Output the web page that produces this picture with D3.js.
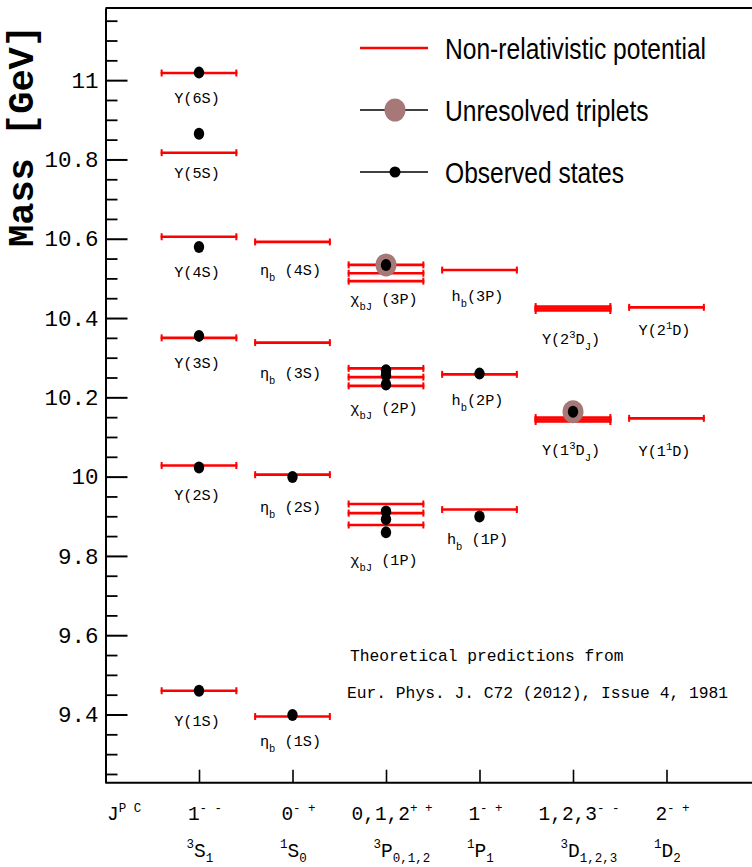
<!DOCTYPE html>
<html><head><meta charset="utf-8">
<script src="https://cdn.jsdelivr.net/npm/d3@7"></script>
<style>body{margin:0;background:#fff}svg{display:block}</style>
</head><body>
<svg id="c" width="752" height="867"></svg>
<script>
// ---------- data ----------
const columnIds = [1, 2, 3, 4, 5, 6];
const jpcMain = ["1", "0", "0,1,2", "1", "1,2,3", "2"];
const jpcSup  = ["- -", "- +", "+ +", "- +", "- -", "- +"];
const specSup = ["3", "1", "3", "1", "3", "1"];
const specLetter = ["S", "S", "P", "P", "D", "D"];
const specSub = ["1", "0", "0,1,2", "1", "1,2,3", "2"];

const yMajorTicks = [9.4, 9.6, 9.8, 10, 10.2, 10.4, 10.6, 10.8, 11];
const yTickLabels = ["9.4", "9.6", "9.8", "10", "10.2", "10.4", "10.6", "10.8", "11"];

// predicted levels (non-relativistic potential): [column, mass GeV]
const predicted = [
  [1, 11.018], [1, 10.817], [1, 10.605], [1, 10.350], [1, 10.028], [1, 9.460],
  [2, 10.592], [2, 10.338], [2, 10.005], [2, 9.395],
  [3, 10.534], [3, 10.513], [3, 10.493],
  [3, 10.273], [3, 10.251], [3, 10.229],
  [3, 9.931], [3, 9.908], [3, 9.878],
  [4, 10.521], [4, 10.258], [4, 9.917],
  [5, 10.429], [5, 10.424], [5, 10.419],
  [5, 10.149], [5, 10.144], [5, 10.139],
  [6, 10.427], [6, 10.147]
];
// observed states: [column, mass GeV]
const observed = [
  [1, 11.019], [1, 10.865], [1, 10.579], [1, 10.355], [1, 10.023], [1, 9.460],
  [2, 9.999], [2, 9.399],
  [3, 10.534], [3, 10.2686], [3, 10.2555], [3, 10.2325], [3, 9.9122], [3, 9.8928], [3, 9.8594],
  [4, 10.2598], [4, 9.8993],
  [5, 10.1637]
];
// unresolved triplets: [column, mass GeV]
const unresolved = [[3, 10.534], [5, 10.1637]];

// state labels: [column, label-centre mass, text]
const stateLabels = [
  [1, 10.955, "Υ(6S)"], [1, 10.766, "Υ(5S)"], [1, 10.517, "Υ(4S)"],
  [1, 10.287, "Υ(3S)"], [1, 9.954, "Υ(2S)"], [1, 9.384, "Υ(1S)"],
  [2, 10.521, "η_{b} (4S)"], [2, 10.262, "η_{b} (3S)"], [2, 9.924, "η_{b} (2S)"], [2, 9.334, "η_{b} (1S)"],
  [3, 10.447, "χ_{bJ} (3P)"], [3, 10.172, "χ_{bJ} (2P)"], [3, 9.790, "χ_{bJ} (1P)"],
  [4, 10.456, "h_{b}(3P)"], [4, 10.194, "h_{b}(2P)"], [4, 9.842, "h_{b} (1P)"],
  [5, 10.346, "Υ(2^{3}D_{J})"], [5, 10.066, "Υ(1^{3}D_{J})"],
  [6, 10.371, "Υ(2^{1}D)"], [6, 10.064, "Υ(1^{1}D)"]
];

const legendLabels = ["Non-relativistic potential", "Unresolved triplets", "Observed states"];
const noteLines = ["Theoretical predictions from", "Eur. Phys. J. C72 (2012), Issue 4, 1981"];

// ---------- drawing ----------
const svg = d3.select("#c");
const MONO = "'Liberation Mono','Courier New',monospace";
const SANS = "'Liberation Sans',Arial,sans-serif";
const RED = "#ff0000";
const BROWN = "#a67878";

const x = d3.scaleLinear().domain([0, 7]).range([105.5, 105.5 + 7 * 93.5]);
const y = d3.scaleLinear().domain([9.228, 11.182]).range([782.7, 8]);

// frame top line
svg.append("line").attr("x1", x(0)).attr("x2", 752).attr("y1", y.range()[1]).attr("y2", y.range()[1])
  .attr("stroke", "#000").attr("stroke-width", 2);

// minor y ticks
const minorTicks = d3.range(9.25, 11.16, 0.05).map(v => +v.toFixed(2)).filter(v => !yMajorTicks.some(m => Math.abs(m - v) < 1e-6));
const gMinor = svg.append("g").attr("transform", `translate(${x(0)},0)`)
  .call(d3.axisLeft(y).tickValues(minorTicks).tickSize(-12).tickSizeOuter(0).tickFormat(""));
gMinor.select(".domain").remove();
gMinor.selectAll("line").attr("stroke-width", 1.8);

const gY = svg.append("g").attr("transform", `translate(${x(0)},0)`)
  .call(d3.axisLeft(y).tickValues(yMajorTicks).tickSize(-22).tickSizeOuter(0).tickPadding(7)
    .tickFormat((d, i) => yTickLabels[i]));
gY.select(".domain").attr("stroke-width", 2);
gY.selectAll("line").attr("stroke-width", 2);
gY.selectAll("text").attr("font-family", MONO).attr("font-size", 22.5).attr("fill", "#000");

// x axis
const gX = svg.append("g").attr("transform", `translate(0,${y.range()[0]})`)
  .call(d3.axisBottom(x).tickValues(columnIds).tickSize(-13).tickSizeOuter(0).tickFormat(""));
gX.select(".domain").attr("stroke-width", 2).attr("d", `M${x(0)},0H752`);
gX.selectAll("line").attr("stroke-width", 1.6);

// y title
svg.append("text").attr("transform", "translate(33,136) rotate(-90)")
  .attr("text-anchor", "middle").attr("font-family", MONO).attr("font-weight", "bold")
  .attr("font-size", 37).text("Mass [GeV]");

// helper for ROOT-like latex strings
function latex(sel, str, base, small, shift) {
  const re = /(_\{[^}]*\}|\^\{[^}]*\}|[^_^]+)/g;
  let m, cur = 0;
  while ((m = re.exec(str)) !== null) {
    const tok = m[0];
    let off = 0, txt = tok, fs = base;
    if (tok.startsWith("_{")) { off = shift; txt = tok.slice(2, -1); fs = small; }
    else if (tok.startsWith("^{")) { off = -shift; txt = tok.slice(2, -1); fs = small; }
    sel.append("tspan").attr("dy", off - cur).attr("font-size", fs).text(txt);
    cur = off;
  }
}

// bottom labels
const row1 = svg.append("g").attr("font-family", MONO);
const jt = row1.append("text").attr("x", 107).attr("y", 820);
latex(jt, "J^{P C}", 19.5, 12.5, 8);
columnIds.forEach((c, i) => {
  const t = row1.append("text").attr("x", x(c) + 6).attr("y", 820).attr("text-anchor", "middle");
  latex(t, jpcMain[i] + "^{" + jpcSup[i] + "}", 19.5, 12.5, 8);
  const t2 = row1.append("text").attr("x", x(c)).attr("y", 857);
  t2.append("tspan").attr("font-size", 12.5).attr("dy", -9).attr("text-anchor", "end").attr("x", x(c) - 5).text(specSup[i]);
  t2.append("tspan").attr("font-size", 19.5).attr("dy", 9).attr("text-anchor", "start").attr("x", x(c) - 5).text(specLetter[i]);
  t2.append("tspan").attr("font-size", 12.5).attr("dy", 5).text(specSub[i]);
});

// predicted levels
const half = 0.41;
const gPred = svg.append("g").attr("stroke", RED).attr("stroke-width", 2.6);
gPred.selectAll("line.lvl").data(predicted).join("line").attr("class", "lvl")
  .attr("x1", d => x(d[0] - half)).attr("x2", d => x(d[0] + half))
  .attr("y1", d => y(d[1])).attr("y2", d => y(d[1]));
gPred.selectAll("line.capl").data(predicted).join("line").attr("class", "capl")
  .attr("x1", d => x(d[0] - half) + 1).attr("x2", d => x(d[0] - half) + 1)
  .attr("y1", d => y(d[1]) - 3.5).attr("y2", d => y(d[1]) + 3.5).attr("stroke-width", 2);
gPred.selectAll("line.capr").data(predicted).join("line").attr("class", "capr")
  .attr("x1", d => x(d[0] + half) - 1).attr("x2", d => x(d[0] + half) - 1)
  .attr("y1", d => y(d[1]) - 3.5).attr("y2", d => y(d[1]) + 3.5).attr("stroke-width", 2);

// unresolved triplets
svg.append("g").selectAll("ellipse").data(unresolved).join("ellipse")
  .attr("cx", d => x(d[0])).attr("cy", d => y(d[1])).attr("rx", 10.5).attr("ry", 11.5).attr("fill", BROWN);

// observed states
svg.append("g").selectAll("ellipse").data(observed).join("ellipse")
  .attr("cx", d => x(d[0])).attr("cy", d => y(d[1])).attr("rx", 5.2).attr("ry", 6).attr("fill", "#000");

// state labels
const gLab = svg.append("g").attr("font-family", MONO).attr("fill", "#000");
stateLabels.forEach(d => {
  const t = gLab.append("text").attr("x", x(d[0]) - 2).attr("y", y(d[1]) + 5).attr("text-anchor", "middle");
  latex(t, d[2], 15.2, 10.5, 6);
});

// legend
const lg = svg.append("g");
const lgY = [48, 110, 172];
lg.append("line").attr("x1", 360).attr("x2", 428).attr("y1", lgY[0]).attr("y2", lgY[0]).attr("stroke", RED).attr("stroke-width", 2.6);
lg.append("line").attr("x1", 360).attr("x2", 428).attr("y1", lgY[1]).attr("y2", lgY[1]).attr("stroke", "#000").attr("stroke-width", 1.4);
lg.append("ellipse").attr("cx", 395).attr("cy", lgY[1]).attr("rx", 10.5).attr("ry", 11.5).attr("fill", BROWN);
lg.append("line").attr("x1", 360).attr("x2", 428).attr("y1", lgY[2]).attr("y2", lgY[2]).attr("stroke", "#000").attr("stroke-width", 1.4);
lg.append("circle").attr("cx", 395).attr("cy", lgY[2]).attr("r", 5.5).attr("fill", "#000");
lg.selectAll("text").data(legendLabels).join("text")
  .attr("transform", (d, i) => `translate(445,${lgY[i] + 11}) scale(0.82,1)`)
  .attr("font-family", SANS).attr("font-size", 30).text(d => d);

// note
svg.append("g").selectAll("text").data(noteLines).join("text")
  .attr("x", (d, i) => i === 0 ? 350 : 347).attr("y", (d, i) => i === 0 ? 661 : 698)
  .attr("font-family", MONO).attr("font-size", 16.3).text(d => d);
</script>
</body></html>
